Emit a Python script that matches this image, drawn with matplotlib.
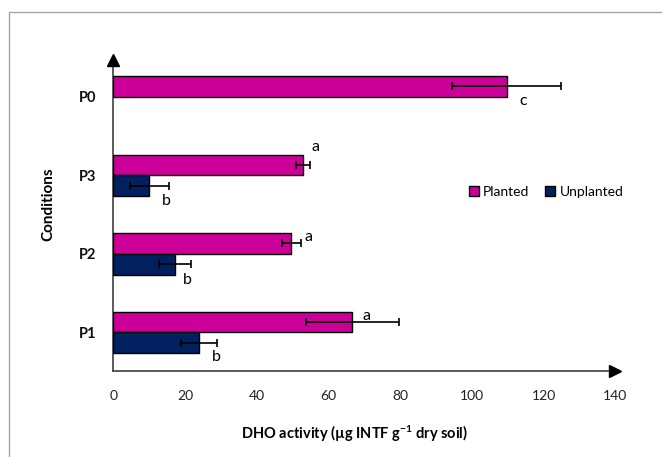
import numpy as np
import matplotlib
matplotlib.use("Agg")
import matplotlib.pyplot as plt
from matplotlib.patches import Rectangle, Patch

# Conditions listed bottom to top
conditions = ["P1", "P2", "P3", "P0"]
planted = [66.7, 49.7, 52.9, 109.7]
planted_err = [12.9, 2.75, 1.95, 15.1]
unplanted = [24.0, 17.1, 10.0, np.nan]
unplanted_err = [5.0, 4.45, 5.4, np.nan]
planted_letters = ["a", "a", "a", "c"]
unplanted_letters = ["b", "b", "b", ""]
x_ticks = [0, 20, 40, 60, 80, 100, 120, 140]

plt.rcParams["font.family"] = ["Lato", "DejaVu Sans"]
plt.rcParams["mathtext.fontset"] = "custom"
plt.rcParams["mathtext.rm"] = "Lato:bold"
plt.rcParams["mathtext.default"] = "rm"

fig = plt.figure(figsize=(6.62, 4.57), dpi=100)
fig.patches.append(Rectangle((9 / 662, -0.05), 1.2, 1 - 12 / 457 + 0.05,
                             transform=fig.transFigure, fill=False,
                             edgecolor="#a6a6a6", linewidth=1.0))

ax = fig.add_axes([113.3 / 662, 1 - 371 / 457, (615.2 - 113.3) / 662, (371 - 60.4) / 457])

y = np.arange(len(conditions))
h = 0.263
c_pl = "#cc0099"
c_un = "#002060"
err_kw = dict(ecolor="black", elinewidth=1.2, capsize=3, capthick=1.2)

ax.barh(y + h / 2, planted, height=h, color=c_pl, edgecolor="black",
        linewidth=1.0, xerr=planted_err, error_kw=err_kw, label="Planted", zorder=3)
ax.barh(y - h / 2, unplanted, height=h, color=c_un, edgecolor="black",
        linewidth=1.0, xerr=unplanted_err, error_kw=err_kw, label="Unplanted", zorder=3)

# significance letters, offsets in pixels from bar end / bar centre
pl_off = [(10, 6), (13.5, 6.5), (9, 18), (13.3, -14.5)]
un_off = [(12.4, -13.7), (7.8, -16.2), (12.5, -15.8), (0, 0)]
for i in range(len(conditions)):
    ax.annotate(planted_letters[i], (planted[i], y[i] + h / 2),
                xytext=pl_off[i], textcoords="offset pixels",
                ha="left", va="center", fontsize=11.5, color="black", zorder=5)
    if unplanted_letters[i]:
        ax.annotate(unplanted_letters[i], (unplanted[i], y[i] - h / 2),
                    xytext=un_off[i], textcoords="offset pixels",
                    ha="left", va="center", fontsize=11.5, color="black", zorder=5)

ax.set_xlim(0, 140)
ax.set_ylim(-0.49, 3.46)
ax.set_xticks(x_ticks)
ax.set_xticklabels([str(t) for t in x_ticks], fontsize=10, color="#222222")
ax.set_yticks(y)
ax.set_yticklabels(conditions, fontsize=10.5, fontweight="bold", color="#111111")
ax.tick_params(axis="both", length=0)
ax.tick_params(axis="x", pad=14)
ax.tick_params(axis="y", pad=12)

for s in ["top", "right"]:
    ax.spines[s].set_visible(False)
for s in ["left", "bottom"]:
    ax.spines[s].set_color("#404040")
    ax.spines[s].set_linewidth(1.2)

# arrow heads on the axes
ax.plot(1, 0, marker=">", color="black", markersize=8, transform=ax.transAxes,
        clip_on=False, zorder=6)
ax.plot(0, 1, marker="^", color="black", markersize=8, transform=ax.transAxes,
        clip_on=False, zorder=6)

fig.text(355 / 662, 1 - 434 / 457, "DHO activity (µg INTF g$^{-1}$ dry soil)",
         ha="center", va="center", fontsize=10.5, fontweight="bold")
fig.text(48 / 662, 1 - 204 / 457, "Conditions", rotation=90,
         ha="center", va="center", fontsize=11, fontweight="bold")

handles = [Patch(facecolor=c_pl, edgecolor="black", linewidth=1.0),
           Patch(facecolor=c_un, edgecolor="black", linewidth=1.0)]
ax.legend(handles, ["Planted", "Unplanted"], loc="center",
          bbox_to_anchor=(0.862, 0.577), ncol=2, frameon=False, fontsize=10,
          handlelength=0.75, handleheight=0.75, handletextpad=0.3,
          columnspacing=1.1)

fig.savefig("out.png", dpi=100)
